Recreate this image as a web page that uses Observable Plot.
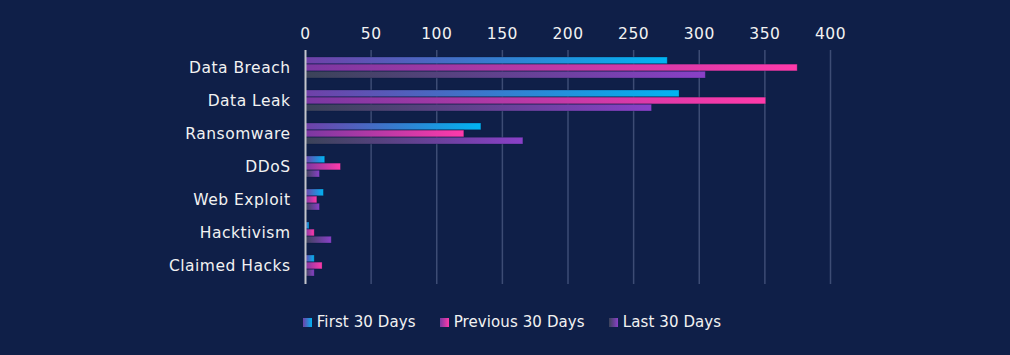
<!DOCTYPE html>
<html>
<head>
<meta charset="utf-8">
<script src="https://cdn.jsdelivr.net/npm/d3@7"></script>
<script src="https://cdn.jsdelivr.net/npm/@observablehq/plot@0.6"></script>
<style>
  html, body { margin: 0; padding: 0; background: #0f1f48; }
  body { width: 1010px; height: 355px; overflow: hidden; font-family: "DejaVu Sans", sans-serif; }
  #chart svg { display: block; }
  .legend { display: flex; justify-content: center; align-items: center; height: 44px; color: #f2f2f2; font-size: 15px; letter-spacing: 0.1px; margin-left: 14px; }
  .legend .item { display: flex; align-items: center; margin: 0 12px; }
  .legend .sw { width: 9px; height: 9px; margin-right: 5px; }
</style>
</head>
<body>
<svg width="0" height="0" style="position:absolute">
  <defs>
    <linearGradient id="gFirst" x1="0" x2="1" y1="0" y2="0">
      <stop offset="0" stop-color="#7040a8"/>
      <stop offset="1" stop-color="#00b4f2"/>
    </linearGradient>
    <linearGradient id="gPrev" x1="0" x2="1" y1="0" y2="0">
      <stop offset="0" stop-color="#7a38a2"/>
      <stop offset="1" stop-color="#ff3aaa"/>
    </linearGradient>
    <linearGradient id="gLast" x1="0" x2="1" y1="0" y2="0">
      <stop offset="0" stop-color="#3a4358"/>
      <stop offset="1" stop-color="#8a40c8"/>
    </linearGradient>
  </defs>
</svg>
<div id="chart"></div>
<div class="legend" id="legend"></div>
<script>
const categories = ["Data Breach", "Data Leak", "Ransomware", "DDoS", "Web Exploit", "Hacktivism", "Claimed Hacks"];
const seriesNames = ["First 30 Days", "Previous 30 Days", "Last 30 Days"];
const firstValues = [276, 285, 134, 15, 14, 3, 7];
const previousValues = [375, 351, 121, 27, 9, 7, 13];
const lastValues = [305, 264, 166, 11, 11, 20, 7];
const xTicks = [0, 50, 100, 150, 200, 250, 300, 350, 400];

const seriesValues = [firstValues, previousValues, lastValues];
const gradients = ["url(#gFirst)", "url(#gPrev)", "url(#gLast)"];
const cssGradients = [
  "linear-gradient(to right, #7040a8, #00b4f2)",
  "linear-gradient(to right, #7a38a2, #ff3aaa)",
  "linear-gradient(to right, #3a4358, #8a40c8)"
];

const width = 1010, height = 300;
const marginTop = 50, marginBottom = 16, marginLeft = 305, marginRight = 180;
const paddingInner = 0.36, paddingOuter = 0.18;
const step = (height - marginTop - marginBottom) / (categories.length - paddingInner + 2 * paddingOuter);
const sub = step * (1 - paddingInner) / seriesNames.length;

const barMarks = seriesValues.map((vals, i) =>
  Plot.barX(categories.map((c, j) => ({category: c, value: vals[j]})), {
    x: "value",
    y: "category",
    fill: gradients[i],
    insetTop: i * sub,
    insetBottom: (seriesNames.length - 1 - i) * sub,
    stroke: "#0a1a3e",
    strokeOpacity: 0.35,
    strokeWidth: 0.8
  })
);

const plot = Plot.plot({
  width, height, marginTop, marginBottom, marginLeft, marginRight,
  style: {background: "#0f1f48", color: "#f2f2f2", fontFamily: "DejaVu Sans, sans-serif", fontSize: "15px", letterSpacing: "0.5px"},
  x: {domain: [0, 400], axis: null},
  y: {domain: categories, paddingInner, paddingOuter, axis: null},
  marks: [
    Plot.ruleX(xTicks.slice(1), {stroke: "#3d4c74", strokeWidth: 1.5}),
    ...barMarks,
    Plot.ruleX([0], {stroke: "#c4c6cc", strokeWidth: 2}),
    Plot.axisX({anchor: "top", ticks: xTicks, tickSize: 0, tickPadding: 12, fill: "#f2f2f2", fontSize: 15.5, label: null}),
    Plot.axisY({anchor: "left", tickSize: 0, tickPadding: 15, fill: "#f2f2f2", fontSize: 15.5, label: null})
  ]
});
document.getElementById("chart").appendChild(plot);

const legend = document.getElementById("legend");
seriesNames.forEach((name, i) => {
  const item = document.createElement("div");
  item.className = "item";
  const sw = document.createElement("span");
  sw.className = "sw";
  sw.style.background = cssGradients[i];
  const label = document.createElement("span");
  label.textContent = name;
  item.appendChild(sw);
  item.appendChild(label);
  legend.appendChild(item);
});
</script>
</body>
</html>
